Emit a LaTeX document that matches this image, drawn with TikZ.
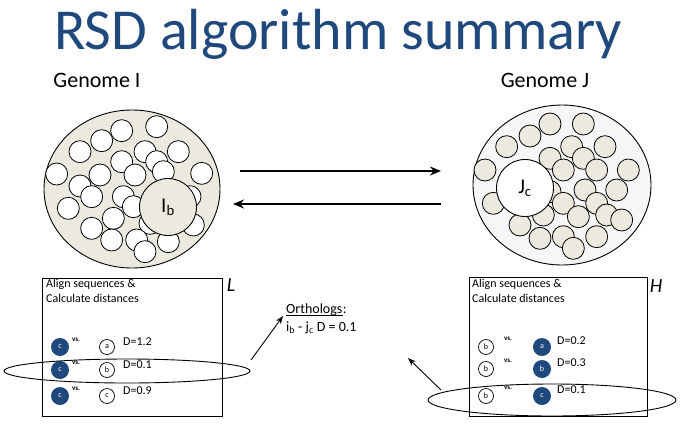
\documentclass[tikz,border=0pt]{standalone}
\usepackage{fontspec}
\setmainfont{Carlito}
\usetikzlibrary{arrows.meta}
\definecolor{titleblue}{RGB}{31,73,125}
\definecolor{dotblue}{RGB}{31,73,125}
\definecolor{beige}{RGB}{236,233,222}
\definecolor{pale}{RGB}{246,246,246}
\tikzset{
  sm/.style={draw=black, line width=0.8pt},
  big/.style={circle, draw=black, line width=0.9pt, minimum size=57pt, inner sep=0pt, font=\fontsize{21}{22}\selectfont},
  fdot/.style={circle, fill=dotblue, minimum size=18pt, inner sep=0pt, text=white, font=\fontsize{8}{9}\selectfont},
  odot/.style={circle, draw=black, line width=0.7pt, fill=white, minimum size=15pt, inner sep=0pt, font=\fontsize{8}{9}\selectfont},
  vs/.style={font=\bfseries\fontsize{7}{8}\selectfont, inner sep=0pt},
  dval/.style={font=\fontsize{12}{14}\selectfont, inner sep=0pt, anchor=west},
  boxtxt/.style={font=\fontsize{12}{14.5}\selectfont, inner sep=0pt, anchor=north west, align=left},
  ortxt/.style={font=\fontsize{14}{17}\selectfont, inner sep=0pt, anchor=base west},
  arr/.style={-{Stealth[length=8pt,width=6pt]}, line width=0.9pt},
  bigarr/.style={-{Stealth[length=11pt,width=9pt]}, line width=2.2pt},
}
\begin{document}
\begin{tikzpicture}[x=1pt,y=-1pt]
\useasboundingbox (0,0) rectangle (685,432);
% title
\node (title) [text=titleblue, font=\fontsize{58}{60}\selectfont, inner sep=0pt] at (338,34) {RSD algorithm summary};
\node (gI) [font=\fontsize{22}{24}\selectfont, inner sep=0pt] at (97,80) {Genome I};
\node (gJ) [font=\fontsize{22}{24}\selectfont, inner sep=0pt] at (545,80) {Genome J};
% left genome
\draw[line width=0.9pt, fill=beige] (132,189) ellipse (88 and 79);
\foreach \x/\y in {305/92,410/80,245/122,180/155,375/155,475/155,410/185,305/185,240/225,345/225,110/222,180/258,545/220,430/215,510/290,215/290,310/290,145/325,280/355,340/320,215/385,390/370,520/375,275/420,350/420,445/425,375/455}
  \draw[sm, fill=white] ({\x/3+20},{\y/3+100}) circle (11pt);
\node (Ib) [big, fill=beige] at (168,207) {I\textsubscript{b}};
% right genome
\draw[line width=0.9pt, fill=pale] (562,185) ellipse (89 and 80);
\foreach \x/\y in {300/72,400/72,240/108,170/140,365/140,465/140,300/175,400/175,105/210,340/210,440/210,535/210,405/270,500/270,300/275,130/310,340/310,440/310,385/350,470/345,515/360,210/375,280/345,270/415,340/410,440/410,370/445}
  \draw[sm, fill=beige] ({\x/3+450},{\y/3+100}) circle (11pt);
\node (Jc) [big, fill=white] at (525,188) {J\textsubscript{c}};
% middle arrows
\coordinate (a1s) at (240,171);
\coordinate (a1e) at (441,171);
\coordinate (a2s) at (441,204);
\coordinate (a2e) at (233,204);
\draw[bigarr] (a1s) -- (a1e);
\draw[bigarr] (a2s) -- (a2e);
% left box
\node (Lbox) [draw, line width=0.9pt, minimum width=180pt, minimum height=138pt, inner sep=0pt] at (132,347) {};
\node (Lt) [boxtxt] at (46,279) {Align sequences \&\\Calculate distances};
\node (Llab) [font=\itshape\fontsize{20}{22}\selectfont, inner sep=0pt] at (231,285) {L};
\foreach \i/\y/\l/\d in {1/347/a/1.2,2/370/b/0.1,3/396/c/0.9}{
  \node (lf\i) [fdot] at (60,\y) {c};
  \node (lv\i) [vs] at (76,\y-7) {vs.};
  \node (lo\i) [odot] at (107,\y) {\l};
  \node (ld\i) [dval] at (123,\y-5) {D=\d};
}
\draw[line width=0.9pt] (127,371) ellipse (123 and 12);
% right box
\node (Hbox) [draw, line width=0.9pt, minimum width=178pt, minimum height=139pt, inner sep=0pt] at (558,346.5) {};
\node (Ht) [boxtxt] at (472,279) {Align sequences \&\\Calculate distances};
\node (Hlab) [font=\itshape\fontsize{20}{22}\selectfont, inner sep=0pt] at (656,286) {H};
\foreach \i/\y/\l/\d in {1/347/a/0.2,2/369/b/0.3,3/396/c/0.1}{
  \node (ro\i) [odot] at (486,\y) {b};
  \node (rv\i) [vs] at (508,\y-8) {vs.};
  \node (rf\i) [fdot] at (542,\y) {\l};
  \node (rd\i) [dval] at (557,\y-6) {D=\d};
}
\draw[line width=0.9pt] (552,400) ellipse (124 and 16);
% orthologs
\node (orthw) [ortxt] at (286,313) {Orthologs};
\node (orthc) [ortxt] at (orthw.base east) {:};
\draw[line width=0.7pt] ([yshift=-2pt]orthw.base west) -- ([yshift=-2pt]orthw.base east);
\node (orth2) [ortxt] at (286,331) {i\textsubscript{b} - j\textsubscript{c} D = 0.1};
\coordinate (o1s) at (251,360);
\coordinate (o1e) at (283,316);
\coordinate (o2s) at (441,390);
\coordinate (o2e) at (408,358);
\draw[arr] (o1s) -- (o1e);
\draw[arr] (o2s) -- (o2e);
\end{tikzpicture}
\end{document}
